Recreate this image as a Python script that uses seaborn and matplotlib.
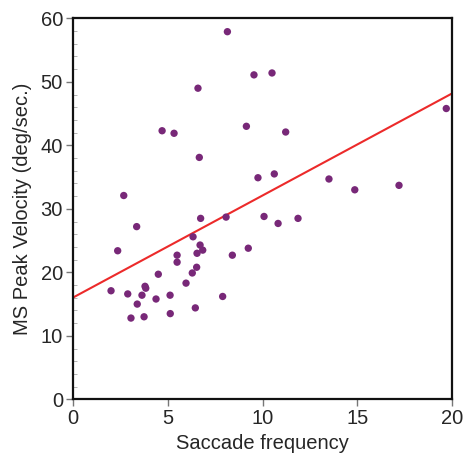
import matplotlib
matplotlib.use("Agg")
import matplotlib.pyplot as plt
import seaborn as sns
import pandas as pd
from matplotlib.ticker import MultipleLocator

saccade_freq = [8.15, 9.55, 10.50, 6.60, 4.71, 5.34, 9.15, 6.67, 9.76, 2.69,
                10.62, 11.22, 13.50, 14.86, 17.19, 19.68, 10.08, 11.87, 10.82, 6.74,
                8.08, 3.37, 6.34, 2.37, 5.50, 5.50, 6.71, 6.55, 6.85, 6.53,
                6.30, 4.51, 5.97, 2.02, 2.90, 3.65, 3.81, 3.85, 4.39, 5.13,
                7.90, 3.40, 6.46, 5.14, 3.07, 3.76, 8.41, 9.25]
peak_velocity = [57.9, 51.1, 51.4, 49.0, 42.3, 41.9, 43.0, 38.1, 34.9, 32.1,
                 35.5, 42.1, 34.7, 33.0, 33.7, 45.8, 28.8, 28.5, 27.7, 28.5,
                 28.7, 27.2, 25.6, 23.4, 22.7, 21.6, 24.3, 23.0, 23.5, 20.8,
                 19.9, 19.7, 18.3, 17.1, 16.6, 16.4, 17.8, 17.5, 15.8, 16.4,
                 16.2, 15.0, 14.4, 13.5, 12.8, 13.0, 22.7, 23.8]
fit_x = [0, 20]
fit_y = [16.0, 48.2]
x_ticks = [0, 5, 10, 15, 20]
y_ticks = [0, 10, 20, 30, 40, 50, 60]

sns.set_style("ticks")
plt.rcParams['font.family'] = ['Liberation Sans', 'DejaVu Sans']

df = pd.DataFrame({"x": saccade_freq, "y": peak_velocity})
fit = pd.DataFrame({"x": fit_x, "y": fit_y})

fig = plt.figure(figsize=(4.63, 4.59), dpi=100)
ax = fig.add_axes([0.157, 0.130, 0.820, 0.830])

sns.lineplot(data=fit, x="x", y="y", ax=ax, color="#EC2A2A", linewidth=1.5, zorder=2)
sns.scatterplot(data=df, x="x", y="y", ax=ax, color="#782878", s=28,
                edgecolor="none", zorder=3)

ax.set_xlim(0, 20)
ax.set_ylim(0, 60)
ax.set_xticks(x_ticks)
ax.set_yticks(y_ticks)
ax.yaxis.set_minor_locator(MultipleLocator(2))
ax.tick_params(axis="both", which="major", direction="out", length=5, width=1,
               color="#777777", labelsize=14.5, pad=2)
ax.tick_params(axis="y", which="minor", direction="in", length=3, width=0.6,
               color="#aaaaaa")
for sp in ax.spines.values():
    sp.set_visible(True)
    sp.set_linewidth(1.6)
    sp.set_color("#111111")
ax.set_xlabel("Saccade frequency", fontsize=14.5, labelpad=4)
ax.set_ylabel("MS Peak Velocity (deg/sec.)", fontsize=14.5, labelpad=6)

fig.savefig("out.png", dpi=100)
